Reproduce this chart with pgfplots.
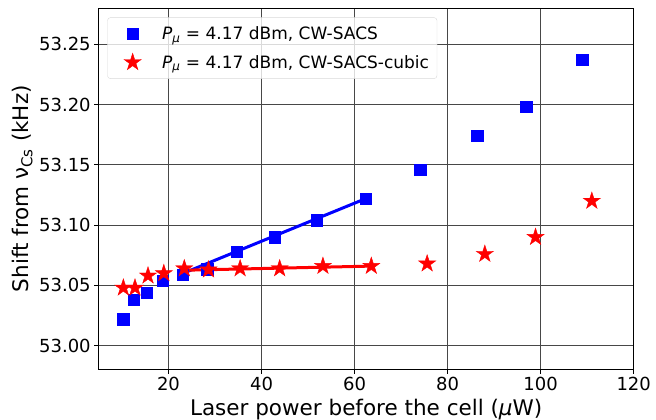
\documentclass[border=0pt]{standalone}
\usepackage{pgfplots}
\pgfplotsset{compat=1.18}
\usepackage{fontspec}
\setmainfont{DejaVu Sans}
\pgfdeclareplotmark{fstar}{%
  \pgfpathmoveto{\pgfpointpolar{90}{\pgfplotmarksize}}%
  \pgfpathlineto{\pgfpointpolar{126}{0.382\pgfplotmarksize}}%
  \pgfpathlineto{\pgfpointpolar{162}{\pgfplotmarksize}}%
  \pgfpathlineto{\pgfpointpolar{198}{0.382\pgfplotmarksize}}%
  \pgfpathlineto{\pgfpointpolar{234}{\pgfplotmarksize}}%
  \pgfpathlineto{\pgfpointpolar{270}{0.382\pgfplotmarksize}}%
  \pgfpathlineto{\pgfpointpolar{306}{\pgfplotmarksize}}%
  \pgfpathlineto{\pgfpointpolar{342}{0.382\pgfplotmarksize}}%
  \pgfpathlineto{\pgfpointpolar{18}{\pgfplotmarksize}}%
  \pgfpathlineto{\pgfpointpolar{54}{0.382\pgfplotmarksize}}%
  \pgfpathclose
  \pgfusepathqfillstroke
}
\definecolor{mplblue}{RGB}{0,0,255}
\definecolor{mplred}{RGB}{255,0,0}
\begin{document}
\begin{tikzpicture}
\begin{axis}[
  at={(0pt,0pt)}, anchor=south west,
  scale only axis,
  width=535pt, height=361.3pt,
  xmin=5, xmax=120, ymin=52.9804, ymax=53.2801,
  xtick={20,40,60,80,100,120},
  ytick={53.00,53.05,53.10,53.15,53.20,53.25},
  yticklabel style={/pgf/number format/fixed, /pgf/number format/fixed zerofill, /pgf/number format/precision=2},
  /pgf/number format/assume math mode=true,
  ticklabel style={font=\fontsize{18}{21}\selectfont},
  tick align=outside, tick pos=left,
  major tick length=4.5pt,
  tick style={black, line width=0.8pt},
  axis line style={black, line width=0.8pt},
  grid=major,
  major grid style={black!72, line width=0.9pt},
  xlabel={Laser power before the cell (\textit{μ}W)},
  ylabel={Shift from ν\textsubscript{Cs} (kHz)},
  label style={font=\fontsize{21.5}{25}\selectfont},
  xlabel style={at={(axis description cs:0.5,-0.1265)}, anchor=base},
  ylabel style={at={(axis description cs:-0.1430,0.5)}, anchor=center},
  legend cell align=left,
  legend image code/.code={\path (0pt,0pt); \draw[#1] plot coordinates {(19pt,0pt)};},
  legend image post style={fill opacity=1, draw opacity=1},
  legend style={at={(axis description cs:0.016,0.974)}, anchor=north west,
    draw=black!15, rounded corners=3pt, fill=white, fill opacity=0.8, text opacity=1,
    font=\fontsize{17}{20}\selectfont, inner xsep=6pt, inner ysep=7.1pt,
    row sep=10pt,
    /tikz/every odd column/.append style={column sep=19pt}},
]
\addplot[only marks, mark=square*, mark size=5.7pt, color=mplblue] coordinates {
(10.3,53.022) (12.5,53.038) (15.35,53.044) (18.7,53.054) (23.1,53.059)
(28.3,53.0635) (34.6,53.078) (42.8,53.090) (51.9,53.104) (62.4,53.122)
(74.1,53.146) (86.4,53.174) (96.9,53.198) (108.9,53.237)
};
\addlegendentry{\textit{P}\textsubscript{\textit{μ}} = 4.17 dBm, CW-SACS}
\addplot[only marks, mark=fstar, mark size=9pt, color=mplred] coordinates {
(10.3,53.048) (12.8,53.048) (15.6,53.058) (19.0,53.060) (23.4,53.064)
(28.6,53.063) (35.4,53.064) (43.9,53.064) (53.2,53.066) (63.6,53.066)
(75.6,53.068) (88.0,53.076) (98.9,53.090) (111.0,53.120)
};
\addlegendentry{\textit{P}\textsubscript{\textit{μ}} = 4.17 dBm, CW-SACS-cubic}
\addplot[mplblue, line width=3pt, forget plot] coordinates {(22.5,53.059) (62.4,53.122)};
\addplot[mplred, line width=3pt, forget plot] coordinates {(22.5,53.0625) (63.6,53.066)};
\end{axis}
\pgfresetboundingbox
\path (-98.7pt,-50.7pt) rectangle (557.3pt,369.3pt);
\end{tikzpicture}
\end{document}
